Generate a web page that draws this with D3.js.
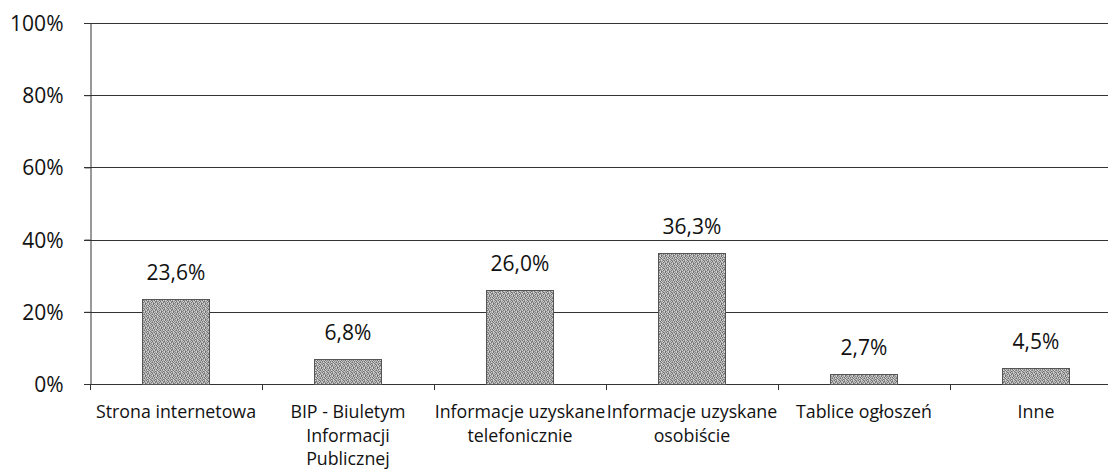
<!DOCTYPE html>
<html><head><meta charset="utf-8">
<script src="https://cdn.jsdelivr.net/npm/d3@7"></script>
<style>html,body{margin:0;padding:0;background:#fff;}svg{display:block;}</style>
</head><body>
<svg id="c" width="1108" height="469"></svg>
<script>
const categories = ["Strona internetowa","BIP - Biuletym Informacji Publicznej","Informacje uzyskane telefonicznie","Informacje uzyskane osobiście","Tablice ogłoszeń","Inne"];
const categoryLines = [["Strona internetowa"],["BIP - Biuletym","Informacji","Publicznej"],["Informacje uzyskane","telefonicznie"],["Informacje uzyskane","osobiście"],["Tablice ogłoszeń"],["Inne"]];
const values = [23.6, 6.8, 26.0, 36.3, 2.7, 4.5];
const valueLabels = ["23,6%","6,8%","26,0%","36,3%","2,7%","4,5%"];
const yTicks = [0,20,40,60,80,100];

(function(){
const svg = d3.select("#c");
const font = "'Open Sans', 'Noto Sans', sans-serif";
const mLeft = 90, mRight = 1122, mTop = 23, mBottom = 384;

// noisy grey texture for bars
const texture = [
  "20313021","13020312","02132031","31201302",
  "12031320","03210213","21302130","30123012"
];
const shades = ["#6f6f6f","#929292","#b5b5b5","#d4d4d4"];
const defs = svg.append("defs");
const pat = defs.append("pattern").attr("id","tex").attr("width",8).attr("height",8).attr("patternUnits","userSpaceOnUse");
texture.forEach((row,ry)=>row.split("").forEach((v,rx)=>{
  pat.append("rect").attr("x",rx).attr("y",ry).attr("width",1).attr("height",1).attr("fill",shades[+v]);
}));

const x = d3.scaleBand().domain(categories).range([mLeft,mRight]).paddingInner(0.61).paddingOuter(0.305);
const y = d3.scaleLinear().domain([0,100]).range([mBottom,mTop]);

svg.append("g").selectAll("line").data(yTicks).join("line")
  .attr("x1",mLeft-6).attr("x2",mRight).attr("y1",d=>Math.round(y(d))+0.5).attr("y2",d=>Math.round(y(d))+0.5)
  .attr("stroke","#333").attr("stroke-width",1);

const yAxis = d3.axisLeft(y).tickValues(yTicks).tickFormat(d=>d+"%").tickSize(6).tickPadding(21);
const yg = svg.append("g").attr("transform",`translate(${mLeft+0.5},0)`).call(yAxis);
yg.select(".domain").attr("stroke","#333");
yg.selectAll(".tick line").attr("stroke","#333");
yg.selectAll("text").attr("font-family",font).attr("font-size",21).attr("fill","#111").attr("dy","0.36em");

const bandStep = x.step();
svg.append("g").selectAll("line").data(d3.range(categories.length+1)).join("line")
  .attr("x1",i=>Math.round(mLeft+i*bandStep)+0.5).attr("x2",i=>Math.round(mLeft+i*bandStep)+0.5)
  .attr("y1",mBottom).attr("y2",mBottom+6).attr("stroke","#333");

svg.append("g").selectAll("rect").data(values).join("rect")
  .attr("x",(d,i)=>Math.round(x(categories[i]))+0.5).attr("width",Math.round(x.bandwidth()))
  .attr("y",d=>Math.round(y(d))+0.5).attr("height",d=>mBottom-Math.round(y(d)))
  .attr("fill","url(#tex)").attr("stroke","#555").attr("stroke-width",1);

svg.append("g").selectAll("text").data(values).join("text")
  .attr("x",(d,i)=>x(categories[i])+x.bandwidth()/2).attr("y",d=>y(d)-19)
  .attr("text-anchor","middle").attr("font-family",font).attr("font-size",21).attr("fill","#111")
  .text((d,i)=>valueLabels[i]);

const cg = svg.append("g");
categories.forEach((c,i)=>{
  const cx = x(c)+x.bandwidth()/2;
  const t = cg.append("text").attr("x",cx).attr("y",418)
    .attr("text-anchor","middle").attr("font-family",font).attr("font-size",17.8).attr("fill","#111");
  categoryLines[i].forEach((ln,j)=>t.append("tspan").attr("x",cx).attr("dy",j?23.5:0).text(ln));
});
})();
</script>
</body></html>
